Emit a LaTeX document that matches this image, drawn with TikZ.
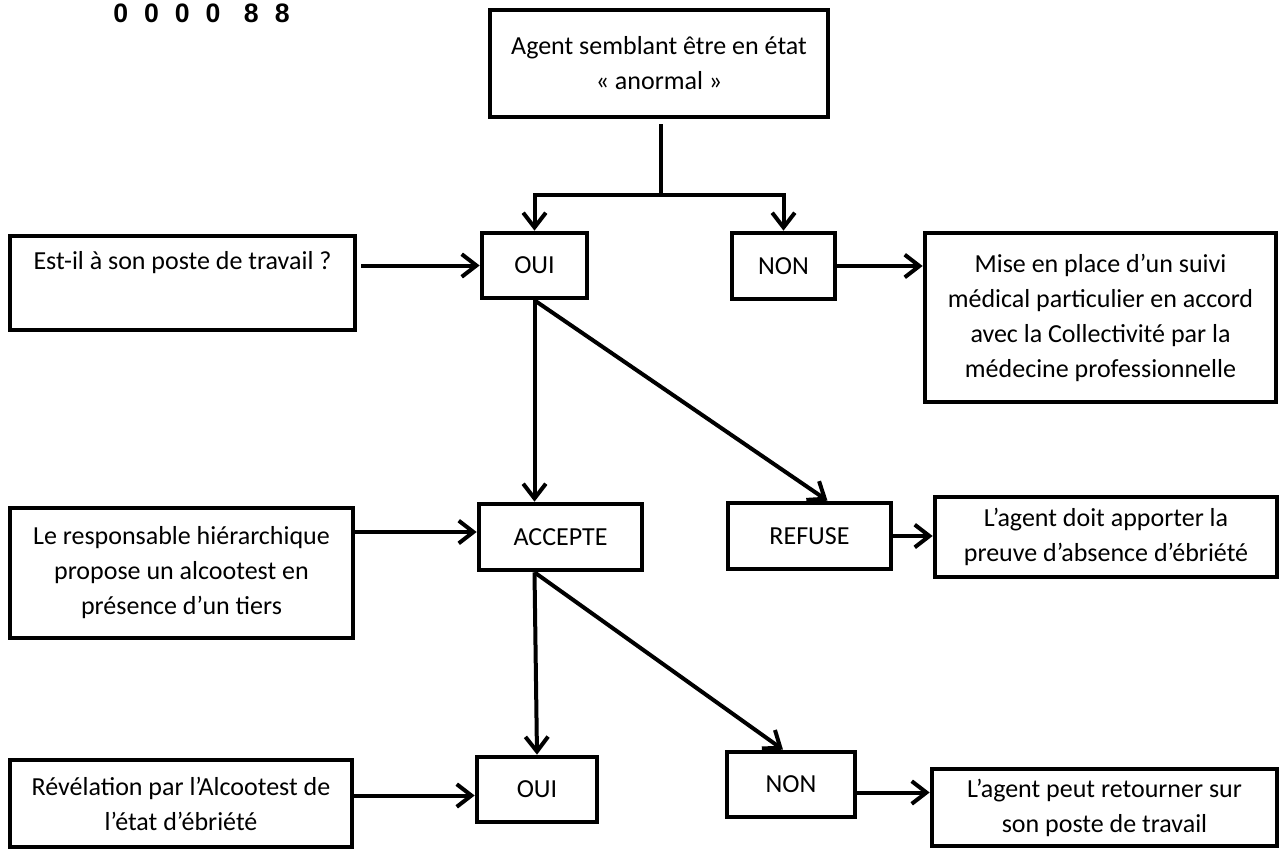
\documentclass[tikz,border=0pt]{standalone}
\usepackage{fontspec}
\setmainfont{Carlito}
\newfontfamily\hdrfont[LetterSpace=60]{Liberation Sans}
\usetikzlibrary{arrows.meta,calc}
\begin{document}
\begin{tikzpicture}[x=0.75pt,y=-0.75pt,
  box/.style={draw, line width=3.5pt, align=center, inner sep=0pt,
    font=\fontsize{19.5}{26.25}\selectfont},
  sz/.style 2 args={minimum width=#1*0.75pt, minimum height=#2*0.75pt},
  conn/.style={line width=3pt},
  arr/.style={line width=3pt, -{Straight Barb[length=11pt,width=17pt]}}
]
\useasboundingbox (0,0) rectangle (1279,849);
\fill[white] (0,0) rectangle (1279,849);

\node[anchor=base west, inner sep=0pt, font=\hdrfont\bfseries\fontsize{20}{22}\selectfont] (hdr) at (113,23) {0000 88};

\node[box, sz={338}{107}] (top) at (659,63.5) {Agent semblant être en état\\« anormal »};
\node[box, sz={345}{94}] (est) at (182.5,283) {Est-il à son poste de travail ?\\\strut};
\node[box, sz={105}{65}] (oui1) at (534.5,265.5) {OUI};
\node[box, sz={103}{66}] (non1) at (783.5,266) {NON};
\node[box, sz={351}{169}] (mise) at (1100.5,317.5) {Mise en place d’un suivi\\médical particulier en accord\\avec la Collectivité par la\\médecine professionnelle};
\node[box, sz={343}{130}] (resp) at (181.5,573) {Le responsable hiérarchique\\propose un alcootest en\\présence d’un tiers};
\node[box, sz={163}{66}] (acc) at (560.5,537) {ACCEPTE};
\node[box, sz={163}{66}] (ref) at (809.5,536) {REFUSE};
\node[box, sz={342}{80}] (adoit) at (1106,537) {L’agent doit apporter la\\preuve d’absence d’ébriété};
\node[box, sz={342}{87}] (rev) at (181,803.5) {Révélation par l’Alcootest de\\l’état d’ébriété};
\node[box, sz={120}{65}] (oui2) at (537,789.5) {OUI};
\node[box, sz={128}{65}] (non2) at (791,784.5) {NON};
\node[box, sz={345}{77}] (apeut) at (1104.5,807.5) {L’agent peut retourner sur\\son poste de travail};

% top split
\coordinate (J) at (661,195);
\coordinate (Js) at ($(top.south -| J)+(0,5)$);
\draw[conn] (Js) -- (J);
\draw[arr] (J) -| (oui1.north);
\draw[arr] (J) -| (non1.north);

% horizontal feeds
\draw[arr] ($(est.east |- oui1.west)+(4,0)$) -- (oui1.west);
\draw[arr] (non1.east) -- (non1.east -| mise.west);
\coordinate (accin) at ($(acc.west)+(0,-5)$);
\draw[arr] (resp.east |- accin) -- (accin);
\draw[arr] (ref.east) -- (ref.east -| adoit.west);
\coordinate (ouiin) at ($(oui2.west)+(0,6)$);
\draw[arr] (rev.east |- ouiin) -- (ouiin);
\coordinate (nonout) at ($(non2.east)+(0,8)$);
\draw[arr] (nonout) -- (nonout -| apeut.west);

% from OUI
\draw[arr] (oui1.south) -- (oui1.south |- acc.north);
\draw[arr] (oui1.south) -- ($(ref.north)+(18,0)$);

% from ACCEPTE
\coordinate (accout) at ($(acc.south)+(-26,0)$);
\draw[arr] (accout) -- (oui2.north);
\draw[arr] (accout) -- ($(non2.north)+(-8,0)$);
\end{tikzpicture}
\end{document}
